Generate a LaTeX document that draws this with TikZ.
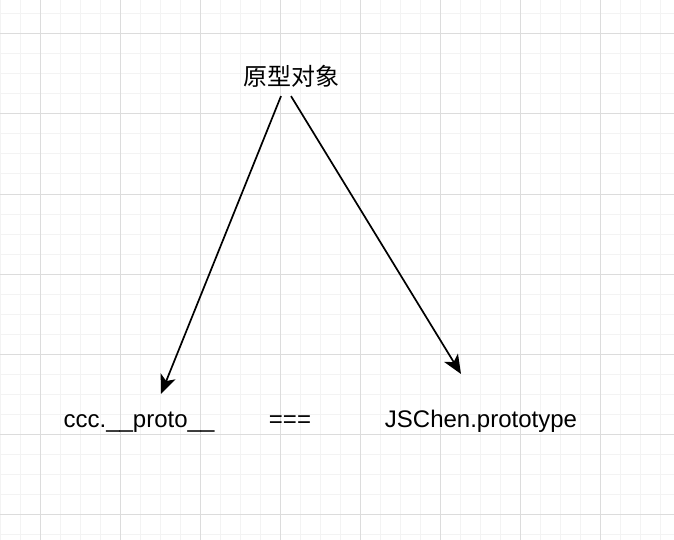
\documentclass[tikz,border=0pt]{standalone}
\usepackage{fontspec}
\setmainfont{Liberation Sans}
\newfontfamily\cjkfont{Noto Sans CJK SC}
\usetikzlibrary{arrows.meta,calc}

\definecolor{gridminor}{HTML}{F3F3F3}
\definecolor{gridmajor}{HTML}{DCDCDC}

\tikzset{
  label text/.style={inner sep=0pt, anchor=base, font=\fontsize{24}{28}\selectfont},
  proto arrow/.style={line width=1.7pt, -{Stealth[length=19pt,width=16pt,inset=5pt]}}
}

\begin{document}
\begin{tikzpicture}[x=1pt, y=-1pt]
  % page size of the sketch (pixels)
  \useasboundingbox (0,0) rectangle (674,540);
  \fill[white] (0,0) rectangle (674,540);

  % background grid -- minor lines every 20, major every 80
  \foreach \gx in {0,20,...,660} {
    \draw[gridminor, line width=1pt] (\gx,0) -- (\gx,540);
  }
  \foreach \gy in {14,34,...,534} {
    \draw[gridminor, line width=1pt] (0,\gy) -- (674,\gy);
  }
  \foreach \gx in {40,120,...,600} {
    \draw[gridmajor, line width=1pt] (\gx,0) -- (\gx,540);
  }
  \foreach \gy in {34,114,...,514} {
    \draw[gridmajor, line width=1pt] (0,\gy) -- (674,\gy);
  }

  % prototype object on top
  \node[label text] (proto) at (291,86) {\cjkfont 原型对象};

  % the two expressions and the equality sign
  \node[label text] (ccc) at (139,427) {ccc.\_\_proto\_\_};
  \node[label text] (eqsign) at (290,427) {===};
  \node[label text] (jschen) at (481,427) {JSChen.prototype};

  % arrow ends (just above the texts)
  \coordinate (cccTip) at (161,394);
  \coordinate (jschenTip) at (461,374);

  % arrows from the prototype object
  \draw[proto arrow] ($(proto.south)+(-10,8)$) -- (cccTip);
  \draw[proto arrow] ($(proto.south)+(0,8)$) -- (jschenTip);
\end{tikzpicture}
\end{document}
